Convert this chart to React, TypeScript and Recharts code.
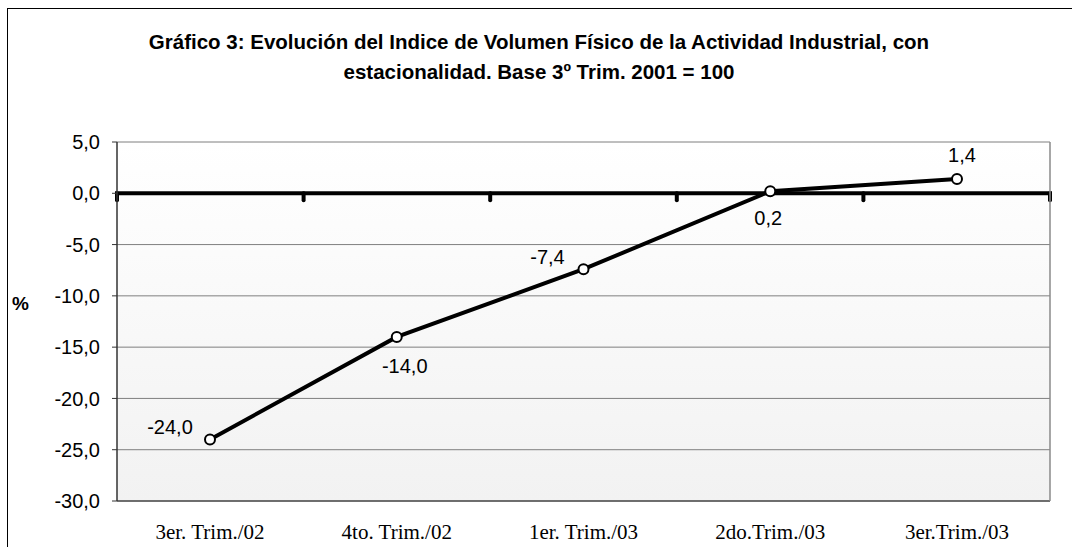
import {
  LineChart,
  Line,
  XAxis,
  YAxis,
  CartesianGrid,
  ReferenceLine,
  LabelList,
} from "recharts";

// ── Data ────────────────────────────────────────────────────────────
const categories = [
  "3er. Trim./02",
  "4to. Trim./02",
  "1er. Trim./03",
  "2do.Trim./03",
  "3er.Trim./03",
];
const values = [-24.0, -14.0, -7.4, 0.2, 1.4];
const yTicks = [-30, -25, -20, -15, -10, -5, 0, 5];

// hand-placed label offsets (px), like the original spreadsheet labels
const labelOffsets: [number, number][] = [
  [-40, -12],
  [8, 29],
  [-36, -12],
  [-2, 27],
  [5, -24],
];

const data = categories.map((c, i) => ({ name: c, value: values[i] }));

const SANS = "'Liberation Sans', Arial, sans-serif";
const SERIF = "'Liberation Serif', 'Times New Roman', serif";

const fmt = (v: number) => v.toFixed(1).replace(".", ",");

// thick zero line with small downward ticks at the category boundaries
function ZeroAxis(props: any) {
  const { x1, x2, y1 } = props;
  if (x1 == null || x2 == null || y1 == null) return null;
  const n = categories.length;
  const step = (x2 - x1) / n;
  const ticks = Array.from({ length: n + 1 }, (_, i) => x1 + i * step);
  return (
    <g>
      <line x1={x1 - 2} x2={x2 + 2} y1={y1} y2={y1} stroke="#000" strokeWidth={4} />
      {ticks.map((t, i) => (
        <line
          key={i}
          x1={t}
          x2={t}
          y1={y1}
          y2={y1 + 7}
          stroke="#000"
          strokeWidth={4}
          strokeLinecap="round"
        />
      ))}
    </g>
  );
}

function PointLabel(props: any) {
  const { x, y, value, index } = props;
  const [dx, dy] = labelOffsets[index] ?? [0, -15];
  return (
    <text
      x={x + dx}
      y={y + dy}
      textAnchor="middle"
      dominantBaseline="central"
      fontFamily={SANS}
      fontSize={20}
      fill="#000"
    >
      {fmt(value)}
    </text>
  );
}

export default function App() {
  return (
    <div
      style={{
        position: "absolute",
        left: 0,
        top: 0,
        width: 1072,
        height: 547,
        overflow: "hidden",
        background: "#fff",
      }}
    >
      <div
        style={{
          position: "absolute",
          left: 7,
          top: 8,
          width: 1080,
          height: 560,
          border: "1px solid #000",
        }}
      />
      <div
        style={{
          position: "absolute",
          left: 0,
          width: 1078,
          top: 27,
          textAlign: "center",
          fontFamily: SANS,
          fontWeight: "bold",
          fontSize: 20.5,
          lineHeight: "30px",
          color: "#000",
        }}
      >
        Gráfico 3: Evolución del Indice de Volumen Físico de la Actividad Industrial, con
        <br />
        estacionalidad. Base 3º Trim. 2001 = 100
      </div>
      <div
        style={{
          position: "absolute",
          left: 12,
          top: 293,
          fontFamily: SANS,
          fontWeight: "bold",
          fontSize: 19,
        }}
      >
        %
      </div>
      <div style={{ position: "absolute", left: 0, top: 0 }}>
        <LineChart
          width={1072}
          height={547}
          data={data}
          margin={{ top: 142, right: 20, bottom: 6, left: 57 }}
        >
          <defs>
            <linearGradient id="plotBg" x1="0" y1="0" x2="0" y2="1">
              <stop offset="0%" stopColor="#ffffff" />
              <stop offset="100%" stopColor="#f2f2f2" />
            </linearGradient>
          </defs>
          <CartesianGrid
            vertical={false}
            stroke="#7f7f7f"
            fill="url(#plotBg)"
            fillOpacity={1}
          />
          <XAxis
            dataKey="name"
            padding={{ left: 93, right: 93 }}
            height={40}
            tickLine={false}
            tickSize={6}
            tickMargin={17}
            axisLine={{ stroke: "#555", strokeWidth: 1.5 }}
            tick={{ fontFamily: SERIF, fontSize: 21, fill: "#000" }}
            interval={0}
          />
          <YAxis
            domain={[-30, 5]}
            ticks={yTicks}
            width={60}
            tickSize={5}
            tickMargin={12}
            tickFormatter={fmt}
            axisLine={{ stroke: "#333", strokeWidth: 1.5 }}
            tickLine={{ stroke: "#333" }}
            tick={{ fontFamily: SANS, fontSize: 20, fill: "#000" }}
            allowDataOverflow
          />
          <YAxis
            yAxisId="right"
            orientation="right"
            width={2}
            domain={[-30, 5]}
            tick={false}
            tickLine={false}
            axisLine={{ stroke: "#8a8a8a", strokeWidth: 1.5 }}
          />
          <ReferenceLine y={0} shape={ZeroAxis} />
          <Line
            dataKey="value"
            stroke="#000"
            strokeWidth={4}
            dot={{ r: 5, fill: "#fff", stroke: "#000", strokeWidth: 2 }}
            activeDot={false}
            isAnimationActive={false}
          >
            <LabelList dataKey="value" content={PointLabel} />
          </Line>
        </LineChart>
      </div>
    </div>
  );
}
